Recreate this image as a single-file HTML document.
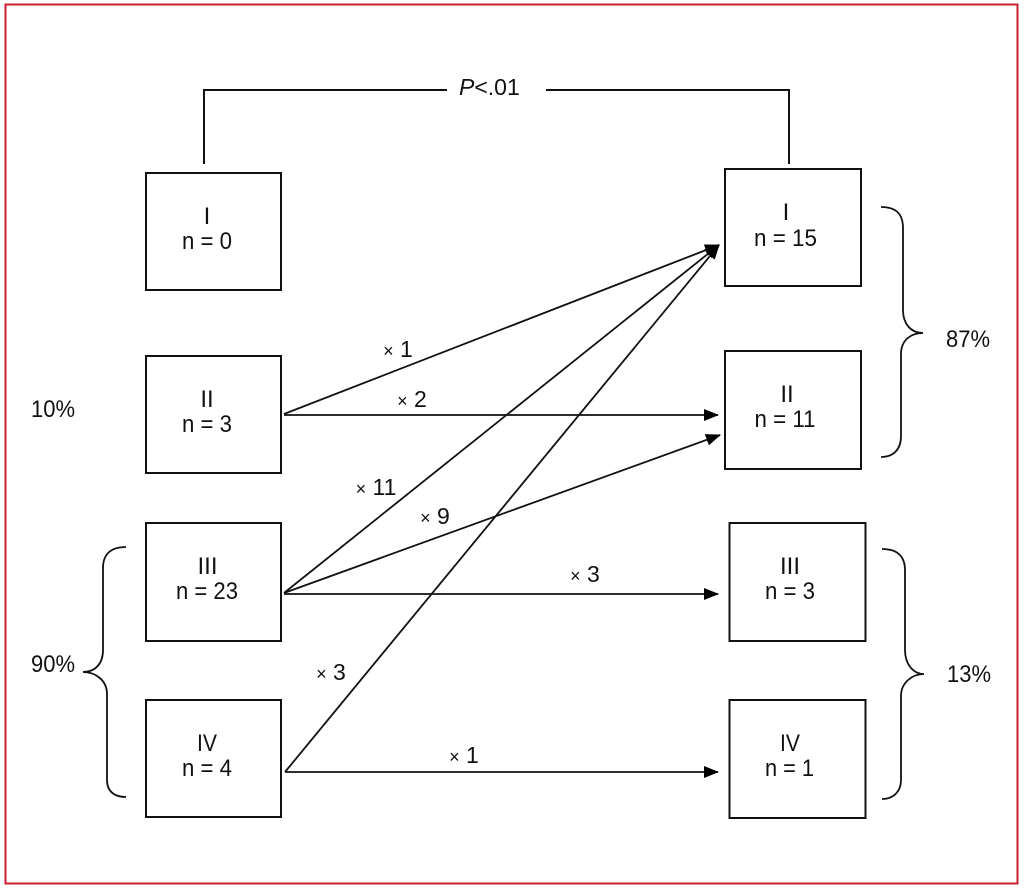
<!DOCTYPE html>
<html>
<head>
<meta charset="utf-8">
<style>
  html, body { margin: 0; padding: 0; background: #ffffff; }
  body { width: 1024px; height: 891px; overflow: hidden; }
  svg { display: block; }
  text { font-family: "Liberation Sans", "DejaVu Sans", sans-serif; fill: #111; }
</style>
</head>
<body>
<svg width="1024" height="891" viewBox="0 0 1024 891" xmlns="http://www.w3.org/2000/svg">
  <defs>
    <marker id="ah" viewBox="0 0 15 12" refX="14" refY="6" markerWidth="15" markerHeight="12" markerUnits="userSpaceOnUse" orient="auto">
      <path d="M0,0 L15,6 L0,12 z" fill="#000"/>
    </marker>
  </defs>

  <!-- red frame -->
  <rect x="5.5" y="4.5" width="1012" height="879" fill="#fff" stroke="#cc1f2d" stroke-width="2"/>

  <!-- P<.01 bracket -->
  <polyline points="204,164 204,90 447,90" fill="none" stroke="#111" stroke-width="2"/>
  <polyline points="546,90 789,90 789,164" fill="none" stroke="#111" stroke-width="2"/>
  <text x="459" y="95" font-size="23"><tspan font-style="italic">P</tspan>&lt;.01</text>

  <!-- left boxes -->
  <g fill="none" stroke="#111" stroke-width="2">
    <rect x="146" y="173" width="135" height="117"/>
    <rect x="146" y="356" width="135" height="117"/>
    <rect x="146" y="523" width="135" height="118"/>
    <rect x="146" y="700" width="135" height="117"/>
    <!-- right boxes -->
    <rect x="725" y="169" width="136" height="117"/>
    <rect x="725" y="351" width="136" height="118"/>
    <rect x="729.5" y="523" width="136" height="118"/>
    <rect x="729.5" y="700" width="136" height="118"/>
  </g>

  <!-- box labels -->
  <g font-size="24" text-anchor="middle">
    <text x="207" y="224">I</text>
    <text x="207" y="249" textLength="50" lengthAdjust="spacingAndGlyphs">n = 0</text>
    <text x="207" y="407">II</text>
    <text x="207" y="432" textLength="50" lengthAdjust="spacingAndGlyphs">n = 3</text>
    <text x="207.5" y="574">III</text>
    <text x="207" y="599" textLength="62" lengthAdjust="spacingAndGlyphs">n = 23</text>
    <text x="207" y="751" textLength="20" lengthAdjust="spacingAndGlyphs">IV</text>
    <text x="207" y="776" textLength="50" lengthAdjust="spacingAndGlyphs">n = 4</text>

    <text x="786" y="220">I</text>
    <text x="785.5" y="246" textLength="63" lengthAdjust="spacingAndGlyphs">n = 15</text>
    <text x="787" y="402">II</text>
    <text x="785" y="427" textLength="61" lengthAdjust="spacingAndGlyphs">n = 11</text>
    <text x="790" y="574">III</text>
    <text x="790" y="599" textLength="50" lengthAdjust="spacingAndGlyphs">n = 3</text>
    <text x="790" y="751" textLength="20" lengthAdjust="spacingAndGlyphs">IV</text>
    <text x="789.5" y="776" textLength="49" lengthAdjust="spacingAndGlyphs">n = 1</text>
  </g>

  <!-- arrows -->
  <g stroke="#111" stroke-width="1.8" fill="none" marker-end="url(#ah)">
    <line x1="284" y1="414" x2="719" y2="245"/>
    <line x1="284" y1="415" x2="718" y2="415"/>
    <line x1="284" y1="593" x2="719" y2="245"/>
    <line x1="284" y1="593" x2="720" y2="435"/>
    <line x1="284" y1="594" x2="718" y2="594"/>
    <line x1="285" y1="772" x2="719" y2="245"/>
    <line x1="285" y1="772" x2="718" y2="772"/>
  </g>

  <!-- arrow labels -->
  <g font-size="23" text-anchor="middle">
    <text x="398" y="357"><tspan font-size="18">×</tspan> 1</text>
    <text x="412" y="407"><tspan font-size="18">×</tspan> 2</text>
    <text x="376" y="495"><tspan font-size="18">×</tspan> 11</text>
    <text x="435" y="524"><tspan font-size="18">×</tspan> 9</text>
    <text x="331" y="680"><tspan font-size="18">×</tspan> 3</text>
    <text x="464" y="763"><tspan font-size="18">×</tspan> 1</text>
    <text x="585" y="582"><tspan font-size="18">×</tspan> 3</text>
  </g>

  <!-- braces -->
  <g fill="none" stroke="#111" stroke-width="1.8">
    <path d="M881,207 C895,207 903,213 903,228 L903,310 C903,324 911,333 923,333 C911,333 901,340 901,354 L901,436 C901,450 893,457 881,457"/>
    <path d="M882,549 C897,549 905,556 905,570 L905,650 C905,664 913,674 924,674 C913,674 901,682 901,696 L901,780 C901,792 893,799 882,799"/>
    <path d="M126,547 C111,547 103,554 103,568 L103,650 C103,664 95,672 83,672 C95,672 107,680 107,694 L107,780 C107,792 115,797 126,797"/>
  </g>

  <!-- percentages -->
  <g font-size="24" text-anchor="middle">
    <text x="53" y="417" textLength="44" lengthAdjust="spacingAndGlyphs">10%</text>
    <text x="53" y="672" textLength="44" lengthAdjust="spacingAndGlyphs">90%</text>
    <text x="968" y="347" textLength="44" lengthAdjust="spacingAndGlyphs">87%</text>
    <text x="969" y="682" textLength="44" lengthAdjust="spacingAndGlyphs">13%</text>
  </g>
</svg>
</body>
</html>
